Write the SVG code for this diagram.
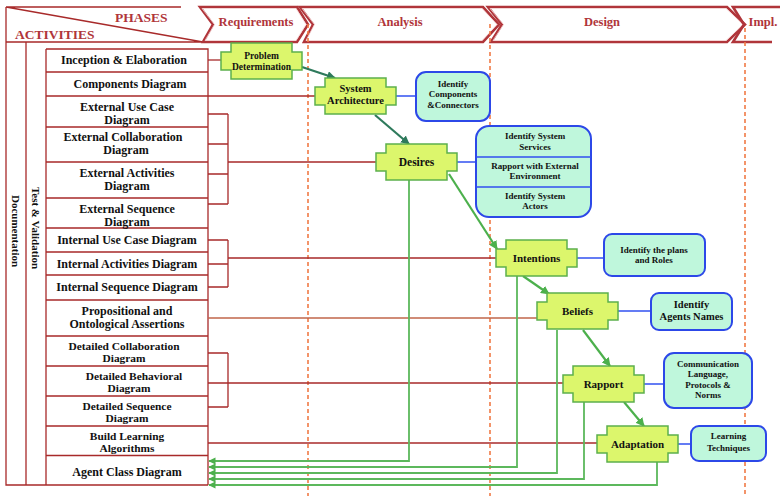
<svg xmlns="http://www.w3.org/2000/svg" xmlns:xlink="http://www.w3.org/1999/xlink" width="780" height="496" viewBox="0 0 780 496">
  <style>
    .hdr { font-family: "Liberation Serif", "Times New Roman", serif; font-weight: bold; fill: #b0353a; }
    .act { font-family: "Liberation Serif", "Times New Roman", serif; font-weight: bold; font-size: 12px; fill: #111; text-anchor: middle; }
    .act2 { font-family: "Liberation Serif", "Times New Roman", serif; font-weight: bold; font-size: 11.4px; fill: #111; text-anchor: middle; }
    .side { font-family: "Liberation Serif", "Times New Roman", serif; font-weight: bold; font-size: 11px; fill: #111; text-anchor: middle; }
    .nd { font-family: "Liberation Serif", "Times New Roman", serif; font-weight: bold; fill: #111; text-anchor: middle; }
    .frame { fill: none; stroke: #a82a2a; stroke-width: 1.3; }
    .chev { fill: #fff; stroke: #b0353a; stroke-width: 2.6; stroke-linejoin: miter; }
    .chevin { fill: none; stroke: #f6d8d8; stroke-width: 0.8; }
    .lane { stroke: #f07a45; stroke-width: 1.6; stroke-dasharray: 4 3; fill: none; }
    .red { stroke: #a82a2a; stroke-width: 1.3; fill: none; }
    .brown { stroke: #c0664a; stroke-width: 1.5; fill: none; }
    .blue { stroke: #3050f0; stroke-width: 1.5; fill: none; }
    .dk { stroke: #2e7a5c; stroke-width: 2.2; fill: none; }
    .gr { stroke: #4cb04c; stroke-width: 2.2; fill: none; }
    .ret { stroke: #5cb85c; stroke-width: 1.8; fill: none; }
    .node { fill: #dcf66c; stroke: #5cb04c; stroke-width: 1.5; }
    .box { fill: #bff7dc; stroke: #2c48e8; stroke-width: 2; }
  </style>
  <defs>
    <path id="nodeShape" d="M10,0 H71 V9 H81 V27 H71 V36 H10 V27 H0 V9 H10 Z"/>
    <marker id="ahDk" viewBox="0 0 10 10" refX="9" refY="5" markerWidth="4" markerHeight="4" orient="auto">
      <path d="M0,0 L10,5 L0,10 Z" fill="#2e7a5c"/>
    </marker>
    <marker id="ahGr" viewBox="0 0 10 10" refX="9" refY="5" markerWidth="4" markerHeight="4" orient="auto">
      <path d="M0,0 L10,5 L0,10 Z" fill="#4cb04c"/>
    </marker>
    <marker id="ahRet" viewBox="0 0 10 10" refX="9" refY="5" markerWidth="4.5" markerHeight="4" orient="auto">
      <path d="M0,0 L10,5 L0,10 Z" fill="#4cb04c"/>
    </marker>
  </defs>

  <rect width="780" height="496" fill="#fff"/>

  <!-- Header: phases / activities corner and phase chevrons -->
  <g id="header">
    <path class="frame" d="M6,7 H181 M6,42 H205 M6,7 L203,42"/>
    <text class="hdr" x="115" y="22" font-size="13.5">PHASES</text>
    <text class="hdr" x="15" y="39" font-size="13.5">ACTIVITIES</text>

    <polygon class="chev" points="200,7 297,7 308,24.5 297,42 203,42 213,24.5"/>
    <polygon class="chevin" points="202,8.5 296,8.5 306,24.5 296,40.5 205,40.5 214.5,24.5"/>
    <polygon class="chev" points="300,7 483,7 499,24.5 483,42 304,42 313,24.5"/>
    <polygon class="chevin" points="302,8.5 482,8.5 497,24.5 482,40.5 306,40.5 314.5,24.5"/>
    <polygon class="chev" points="488,7 727,7 745,24.5 727,42 491,42 502,24.5"/>
    <polygon class="chevin" points="490,8.5 726,8.5 743,24.5 726,40.5 493,40.5 503.5,24.5"/>
    <path class="chev" d="M780,7 H733 L744,24.5 L733,42 H772" style="fill:none"/>

    <text class="hdr" x="256" y="25.5" font-size="12.5" text-anchor="middle">Requirements</text>
    <text class="hdr" x="400" y="25.5" font-size="12.5" text-anchor="middle">Analysis</text>
    <text class="hdr" x="602" y="25.5" font-size="12.5" text-anchor="middle">Design</text>
    <text class="hdr" x="763" y="25.5" font-size="12.5" text-anchor="middle">Impl.</text>
  </g>

  <!-- Phase boundaries -->
  <g id="lanes">
    <line class="lane" x1="308" y1="24" x2="308" y2="496"/>
    <line class="lane" x1="490" y1="24" x2="490" y2="496"/>
    <line class="lane" x1="745" y1="28" x2="745" y2="496"/>
  </g>

  <!-- Activity column -->
  <g id="activities">
    <path class="frame" d="M6,7 V485 H208 M26,42 V485 M46,49 V485"/>
    <text class="side" transform="translate(12,231) rotate(90)">Documentation</text>
    <text class="side" transform="translate(32,228) rotate(90)">Test &amp; Validation</text>

    <path class="frame" d="M46,49 H208 V485 M46,72 H208 M46,96 H208 M46,127 H208 M46,162 H208 M46,198 H208 M46,228 H208 M46,252 H208 M46,275 H208 M46,300 H208 M46,336 H208 M46,366 H208 M46,396 H208 M46,426 H208 M46,455.5 H208"/>

    <text class="act" x="124" y="64">Inception &amp; Elaboration</text>
    <text class="act" x="130" y="88">Components Diagram</text>
    <text class="act" x="127" y="111">External Use Case</text>
    <text class="act" x="127" y="124">Diagram</text>
    <text class="act" x="123" y="141">External Collaboration</text>
    <text class="act" x="126" y="154">Diagram</text>
    <text class="act" x="127" y="177">External Activities</text>
    <text class="act" x="127" y="190">Diagram</text>
    <text class="act" x="127" y="213">External Sequence</text>
    <text class="act" x="127" y="226">Diagram</text>
    <text class="act" x="127" y="244">Internal Use Case Diagram</text>
    <text class="act" x="127" y="268">Internal Activities Diagram</text>
    <text class="act" x="127" y="291">Internal Sequence Diagram</text>
    <text class="act" x="127" y="315">Propositional and</text>
    <text class="act" x="127" y="328">Ontological Assertions</text>
    <text class="act2" x="124" y="350">Detailed Collaboration</text>
    <text class="act2" x="124" y="362">Diagram</text>
    <text class="act2" x="134" y="380">Detailed Behavioral</text>
    <text class="act2" x="129" y="392">Diagram</text>
    <text class="act2" x="127" y="410">Detailed Sequence</text>
    <text class="act2" x="127" y="422">Diagram</text>
    <text class="act2" x="127" y="440">Build  Learning</text>
    <text class="act2" x="127" y="452">Algorithms</text>
    <text class="act" x="127" y="476">Agent Class  Diagram</text>
  </g>

  <!-- Connectors -->
  <g id="connectors">
    <!-- activity to step -->
    <path class="red" d="M208,60 H221"/>
    <path class="red" d="M208,96 H315"/>
    <path class="red" d="M208,114 H228 M208,144 H228 M208,174 H228 M208,204 H228 M228,114 V204 M228,162 H376"/>
    <path class="red" d="M208,240 H228 M208,264 H228 M208,287 H228 M228,240 V287 M228,258 H496"/>
    <path class="brown" d="M208,318 H537"/>
    <path class="red" d="M208,353 H228 M208,407 H228 M228,353 V407 M208,383 H563"/>
    <path class="red" d="M208,443 H597"/>

    <!-- step to detail -->
    <path class="blue" d="M396,96 H416"/>
    <path class="blue" d="M457,162 H476"/>
    <path class="blue" d="M577,258 H604"/>
    <path class="blue" d="M617,311 H651"/>
    <path class="blue" d="M644,384 H664"/>
    <path class="blue" d="M678,444 H691"/>

    <!-- step sequence -->
    <path class="dk" d="M302,67 L335,78" marker-end="url(#ahDk)"/>
    <path class="dk" d="M375,115 L409,144" marker-end="url(#ahDk)"/>
    <path class="gr" d="M449,174 L497,249" marker-end="url(#ahGr)"/>
    <path class="gr" d="M523,276 L549,294" marker-end="url(#ahGr)"/>
    <path class="gr" d="M583,330 L610,366" marker-end="url(#ahGr)"/>
    <path class="gr" d="M624,402 L644,426" marker-end="url(#ahGr)"/>

    <!-- feedback to Agent Class Diagram -->
    <path class="ret" d="M409,180 V461 H209" marker-end="url(#ahRet)"/>
    <path class="ret" d="M517,276 V467 H209" marker-end="url(#ahRet)"/>
    <path class="ret" d="M557,330 V473 H209" marker-end="url(#ahRet)"/>
    <path class="ret" d="M584,402 V479 H209" marker-end="url(#ahRet)"/>
    <path class="ret" d="M657,462 V485 H209" marker-end="url(#ahRet)"/>
  </g>

  <!-- Process steps -->
  <g id="problem-determination">
    <use href="#nodeShape" class="node" x="221" y="43"/>
    <text class="nd" x="261.5" y="59" font-size="9.5">Problem</text>
    <text class="nd" x="261.5" y="70" font-size="9.5">Determination</text>
  </g>
  <g id="system-architecture">
    <use href="#nodeShape" class="node" x="315" y="78"/>
    <text class="nd" x="355.5" y="92" font-size="10.5">System</text>
    <text class="nd" x="355.5" y="104" font-size="10.5">Architecture</text>
  </g>
  <g id="desires">
    <use href="#nodeShape" class="node" x="376" y="144"/>
    <text class="nd" x="416.5" y="166" font-size="11.5">Desires</text>
  </g>
  <g id="intentions">
    <use href="#nodeShape" class="node" x="496" y="240"/>
    <text class="nd" x="536.5" y="262" font-size="11">Intentions</text>
  </g>
  <g id="beliefs">
    <use href="#nodeShape" class="node" x="537" y="293"/>
    <text class="nd" x="577.5" y="315" font-size="11">Beliefs</text>
  </g>
  <g id="rapport">
    <use href="#nodeShape" class="node" x="563" y="366"/>
    <text class="nd" x="603.5" y="388" font-size="11">Rapport</text>
  </g>
  <g id="adaptation">
    <use href="#nodeShape" class="node" x="597" y="426"/>
    <text class="nd" x="637.5" y="448" font-size="11">Adaptation</text>
  </g>

  <!-- Details -->
  <g id="identify-components">
    <rect class="box" x="416" y="72" width="74" height="49" rx="10"/>
    <text class="nd" x="453" y="87" font-size="9">Identify</text>
    <text class="nd" x="453" y="97" font-size="9">Components</text>
    <text class="nd" x="453" y="108" font-size="9">&amp;Connectors</text>
  </g>
  <g id="system-context">
    <rect class="box" x="476" y="126" width="115" height="91" rx="13"/>
    <path class="blue" d="M476,157 H591 M476,187 H591"/>
    <text class="nd" x="535" y="139" font-size="9">Identify System</text>
    <text class="nd" x="535" y="150" font-size="9">Services</text>
    <text class="nd" x="535" y="169" font-size="9">Rapport with External</text>
    <text class="nd" x="535" y="179" font-size="9">Environment</text>
    <text class="nd" x="535" y="199" font-size="9">Identify System</text>
    <text class="nd" x="535" y="209" font-size="9">Actors</text>
  </g>
  <g id="plans-roles">
    <rect class="box" x="604" y="234" width="101" height="42" rx="8"/>
    <text class="nd" x="654" y="253" font-size="9">Identify the plans</text>
    <text class="nd" x="654" y="263" font-size="9">and Roles</text>
  </g>
  <g id="agent-names">
    <rect class="box" x="651" y="293" width="81" height="37" rx="8"/>
    <text class="nd" x="691.5" y="308" font-size="10.5">Identify</text>
    <text class="nd" x="691.5" y="320" font-size="10.5">Agents Names</text>
  </g>
  <g id="communication">
    <rect class="box" x="664" y="353" width="88" height="55" rx="10"/>
    <text class="nd" x="708" y="367" font-size="9">Communication</text>
    <text class="nd" x="708" y="377" font-size="9">Language,</text>
    <text class="nd" x="708" y="388" font-size="9">Protocols &amp;</text>
    <text class="nd" x="708" y="398" font-size="9">Norms</text>
  </g>
  <g id="learning-techniques">
    <rect class="box" x="691" y="426" width="75" height="35" rx="8"/>
    <text class="nd" x="728.5" y="439" font-size="9">Learning</text>
    <text class="nd" x="728.5" y="451" font-size="9">Techniques</text>
  </g>
</svg>
